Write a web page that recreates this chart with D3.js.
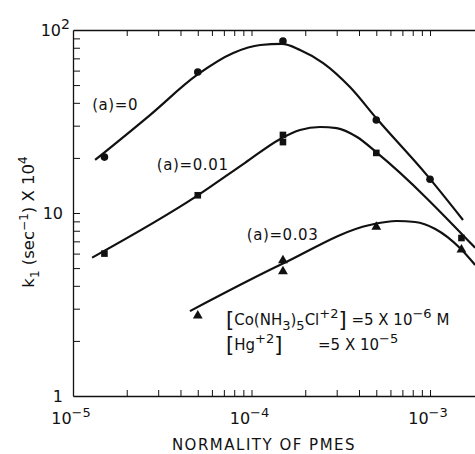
<!DOCTYPE html>
<html>
<head>
<meta charset="utf-8">
<script src="https://cdn.jsdelivr.net/npm/d3@7"></script>
<style>
  body { margin: 0; background: #fff; }
  text { font-family: "DejaVu Sans", sans-serif; fill: #111; }
</style>
</head>
<body>
<div id="chart"></div>
<script>
const width = 475;
const height = 454;

// measured points, normality of PMES vs k1 (x 10^4)
const pointsA0 = [[1.5e-5, 20.2], [5e-5, 59], [1.5e-4, 87], [5e-4, 32.2], [1e-3, 15.3]];
const pointsA001 = [[1.5e-5, 6.0], [5e-5, 12.5], [1.5e-4, 26.7], [1.5e-4, 24.4], [5e-4, 21.3], [1.5e-3, 7.3]];
const pointsA003 = [[5e-5, 2.75], [1.5e-4, 5.5], [1.5e-4, 4.8], [5e-4, 8.4], [1.5e-3, 6.3]];

// hand drawn fit curves (knots)
const curveA0 = [[1.33e-5, 19.5], [2.7e-5, 34.3], [4.95e-5, 56.8], [7.9e-5, 74.9], [1.12e-4, 82.8], [1.48e-4, 83.9],
  [1.87e-4, 77.8], [2.52e-4, 66], [3.56e-4, 48.8], [5.05e-4, 32.6], [9.6e-4, 16.1], [1.53e-3, 9.16]];
const curveA001 = [[1.28e-5, 5.7], [4.95e-5, 12.4], [9.2e-5, 18.8], [1.45e-4, 25.4], [1.87e-4, 28.4],
  [2.42e-4, 29.5], [3.0e-4, 29.1], [3.9e-4, 26], [5.05e-4, 21.3], [1.79e-3, 6.45]];
const curveA003 = [[4.52e-5, 2.91], [1.48e-4, 5.26], [4.6e-4, 8.6], [6.5e-4, 9.04], [8.25e-4, 8.93],
  [1.07e-3, 8.18], [1.47e-3, 6.44], [1.79e-3, 5.2]];

const xMinorTicks = [2e-5, 3e-5, 4e-5, 5e-5, 6e-5, 7e-5, 8e-5, 9e-5, 1e-4,
  2e-4, 3e-4, 4e-4, 5e-4, 6e-4, 7e-4, 8e-4, 9e-4, 1e-3];
const yMinorTicks = [2, 3, 4, 5, 6, 7, 8, 9, 10, 20, 30, 40, 50, 60, 70, 80, 90];
const xLabels = [{v: 1e-5, e: "-5"}, {v: 1e-4, e: "-4"}, {v: 1e-3, e: "-3"}];
const yLabels = [{v: 1, b: "1", e: ""}, {v: 10, b: "10", e: ""}, {v: 100, b: "10", e: "2"}];
const curveLabels = [
  {text: "(a)=0", v: [1.28e-5, 36.6]},
  {text: "(a)=0.01", v: [2.95e-5, 17.2]},
  {text: "(a)=0.03", v: [9.4e-5, 7.12]}
];

const svg = d3.select("#chart")
  .append("svg")
  .attr("width", width)
  .attr("height", height);

const x = d3.scaleLog().domain([1e-5, 1.8e-3]).range([73, 475.6]);
const y = d3.scaleLog().domain([1, 100]).range([396, 30]);

// axes, ticks inward
svg.append("g")
  .attr("transform", "translate(0,396)")
  .call(d3.axisBottom(x).tickValues(xMinorTicks).tickSize(-6).tickSizeOuter(0).tickFormat(""));
svg.append("g")
  .attr("transform", "translate(0,30)")
  .call(d3.axisTop(x).tickValues(xMinorTicks).tickSize(-6).tickSizeOuter(0).tickFormat(""));
svg.append("g")
  .attr("transform", "translate(73,0)")
  .call(d3.axisLeft(y).tickValues(yMinorTicks).tickSize(-7).tickSizeOuter(0).tickFormat(""));
svg.selectAll(".domain").attr("stroke", "#111").attr("stroke-width", 1.3);
svg.selectAll(".tick line").attr("stroke", "#111").attr("stroke-width", 1);

// tick labels
const xl = svg.append("g").selectAll("text")
  .data(xLabels).enter().append("text")
  .attr("x", d => x(d.v) - 2)
  .attr("y", 424)
  .attr("text-anchor", "middle")
  .attr("font-size", 16);
xl.append("tspan").text("10");
xl.append("tspan").attr("dy", -7).attr("font-size", 13).text(d => d.e.replace("-", "\u2212"));

const yl = svg.append("g").selectAll("text")
  .data(yLabels).enter().append("text")
  .attr("x", d => d.e ? 61 : 63)
  .attr("y", d => y(d.v) + 6)
  .attr("text-anchor", "end")
  .attr("font-size", 16);
yl.append("tspan").text(d => d.b);
yl.filter(d => d.e).append("tspan").attr("x", 61).attr("dy", -7).attr("text-anchor", "start")
  .attr("font-size", 14).text(d => d.e);

// axis titles
svg.append("text")
  .attr("x", 264)
  .attr("y", 450)
  .attr("text-anchor", "middle")
  .attr("font-size", 15)
  .attr("letter-spacing", 1.5)
  .text("NORMALITY OF PMES");

const yt = svg.append("text")
  .attr("transform", "translate(34,222) rotate(-90)")
  .attr("text-anchor", "middle")
  .attr("font-size", 16.5);
yt.append("tspan").text("k");
yt.append("tspan").attr("dy", 5).attr("font-size", 12).text("1");
yt.append("tspan").attr("dy", -5).text(" (sec");
yt.append("tspan").attr("dy", -6).attr("font-size", 12).text("\u22121");
yt.append("tspan").attr("dy", 6).text(")  X 10");
yt.append("tspan").attr("dy", -7).attr("font-size", 12).text("4");

// fitted curves
const line = d3.line()
  .x(d => x(d[0]))
  .y(d => y(d[1]))
  .curve(d3.curveMonotoneX);

svg.append("g").selectAll("path")
  .data([curveA0, curveA001, curveA003])
  .enter().append("path")
  .attr("d", line)
  .attr("fill", "none")
  .attr("stroke", "#111")
  .attr("stroke-width", 2.2);

// markers
svg.append("g").selectAll("circle")
  .data(pointsA0).enter().append("circle")
  .attr("cx", d => x(d[0]))
  .attr("cy", d => y(d[1]))
  .attr("r", 3.8)
  .attr("fill", "#111");

svg.append("g").selectAll("rect")
  .data(pointsA001).enter().append("rect")
  .attr("x", d => x(d[0]) - 3.3)
  .attr("y", d => y(d[1]) - 3.3)
  .attr("width", 6.6)
  .attr("height", 6.6)
  .attr("fill", "#111");

svg.append("g").selectAll("path")
  .data(pointsA003).enter().append("path")
  .attr("transform", d => `translate(${x(d[0])},${y(d[1])})`)
  .attr("d", d3.symbol().type(d3.symbolTriangle).size(42))
  .attr("fill", "#111");

// curve labels
svg.append("g").selectAll("text")
  .data(curveLabels).enter().append("text")
  .attr("x", d => x(d.v[0]))
  .attr("y", d => y(d.v[1]))
  .attr("font-size", 15)
  .attr("letter-spacing", 0.6)
  .text(d => d.text);

// conditions note
const n1 = svg.append("text").attr("x", 226).attr("y", 325).attr("font-size", 15);
n1.append("tspan").attr("font-size", 21).attr("dy", 2).text("[");
n1.append("tspan").attr("dy", -2).text("Co(NH");
n1.append("tspan").attr("dy", 5).attr("font-size", 13).text("3");
n1.append("tspan").attr("dy", -5).text(")");
n1.append("tspan").attr("dy", 5).attr("font-size", 13).text("5");
n1.append("tspan").attr("dy", -5).text("Cl");
n1.append("tspan").attr("dy", -7).attr("font-size", 13).text("+2");
n1.append("tspan").attr("dy", 9).attr("font-size", 21).text("]");
n1.append("tspan").attr("dy", -2).text(" =5 X 10");
n1.append("tspan").attr("dy", -7).attr("font-size", 13).text("\u22126");
n1.append("tspan").attr("dy", 7).text(" M");

const n2 = svg.append("text").attr("x", 226).attr("y", 350).attr("font-size", 15);
n2.append("tspan").attr("font-size", 21).attr("dy", 2).text("[");
n2.append("tspan").attr("dy", -2).text("Hg");
n2.append("tspan").attr("dy", -7).attr("font-size", 13).text("+2");
n2.append("tspan").attr("dy", 9).attr("font-size", 21).text("]");
const n3 = svg.append("text").attr("x", 318).attr("y", 350).attr("font-size", 15);
n3.append("tspan").text("=5 X 10");
n3.append("tspan").attr("dy", -7).attr("font-size", 13).text("\u22125");
</script>
</body>
</html>
